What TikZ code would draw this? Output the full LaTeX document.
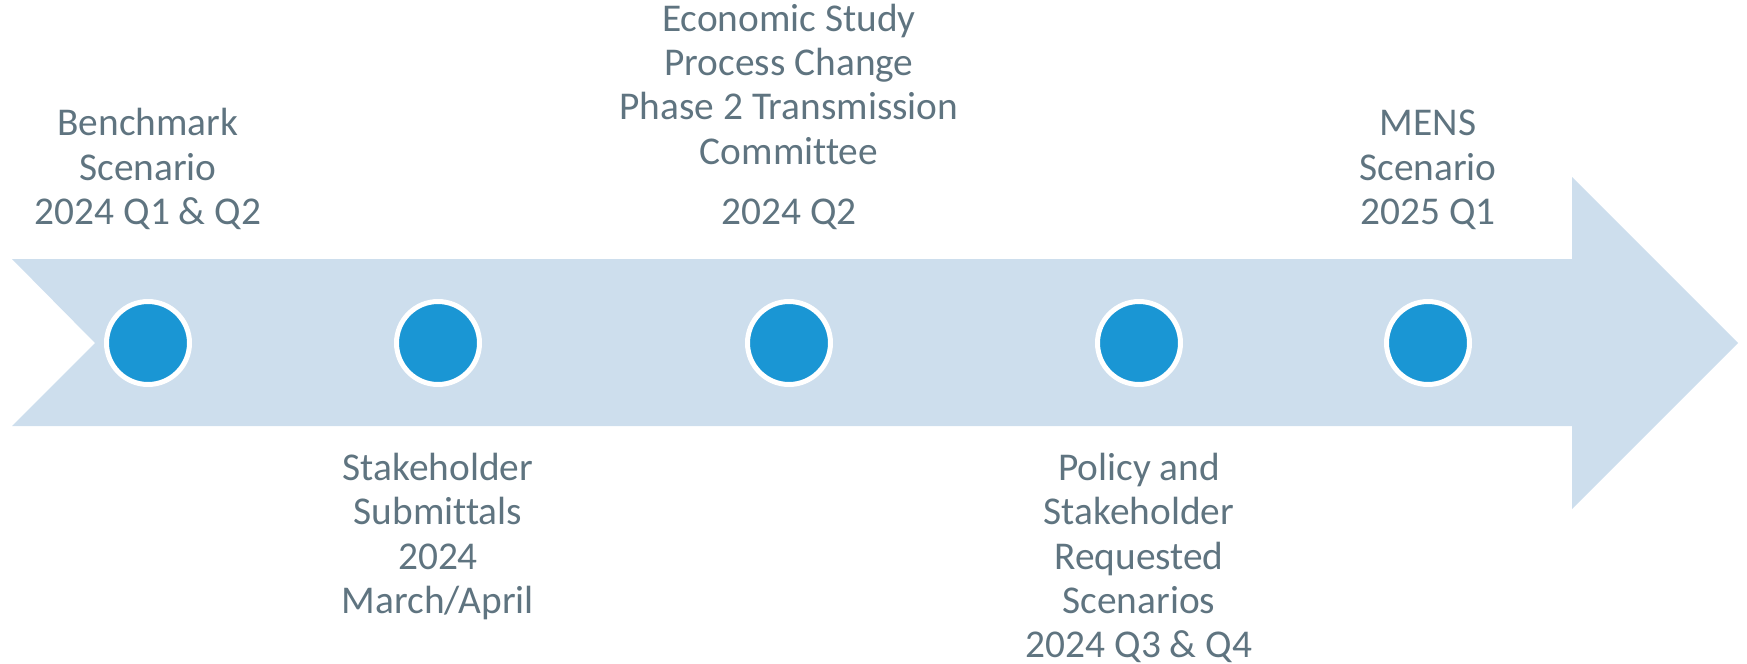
\documentclass[tikz,border=0pt]{standalone}
\usepackage{fontspec}
\setmainfont{Carlito}[Ligatures=NoCommon]
\usepackage{tikz}

\definecolor{bandblue}{HTML}{CDDEED}
\definecolor{dotblue}{HTML}{1A96D4}
\definecolor{labelgrey}{HTML}{5F7480}

\begin{document}
\begin{tikzpicture}[x=0.02cm, y=-0.02cm,
    milestone/.style={circle, fill=dotblue, draw=white, line width=0.1cm, minimum size=1.66cm, inner sep=0pt},
    caption/.style={align=center, inner sep=0pt, text=labelgrey, font=\fontsize{22.4pt}{25.2pt}\selectfont}]
	    \useasboundingbox (0,0) rectangle (1747,663);
	    % the band
	    \fill[bandblue] (12,259) -- (1572,259) -- (1572,177) -- (1738,343) -- (1572,509)
	        -- (1572,426) -- (12,426) -- (95,343) -- cycle;
	    % milestones
	    \node[milestone] (bench) at (148,343) {};
	    \node[milestone] (submit) at (438,343) {};
	    \node[milestone] (econ) at (789,343) {};
	    \node[milestone] (policy) at (1139,343) {};
	    \node[milestone] (mens) at (1428,343) {};
	    % labels above
	    \node[caption, anchor=south] (benchtxt) at (148,230) {Benchmark\\Scenario\\2024 Q1 \& Q2};
	    \node[caption, anchor=south] (econtxt) at (789,230) {Economic Study\\Process Change\\Phase 2 Transmission\\Committee\\[0.32cm]2024 Q2};
	    \node[caption, anchor=south] (menstxt) at (1428,230) {MENS\\Scenario\\2025 Q1};
	    % labels below
	    \node[caption, anchor=north] (submittxt) at (438,453) {Stakeholder\\Submittals\\2024\\March/April};
	    \node[caption, anchor=north] (policytxt) at (1139,453) {Policy and\\Stakeholder\\Requested\\Scenarios\\2024 Q3 \& Q4};
	\end{tikzpicture}
\end{document}
